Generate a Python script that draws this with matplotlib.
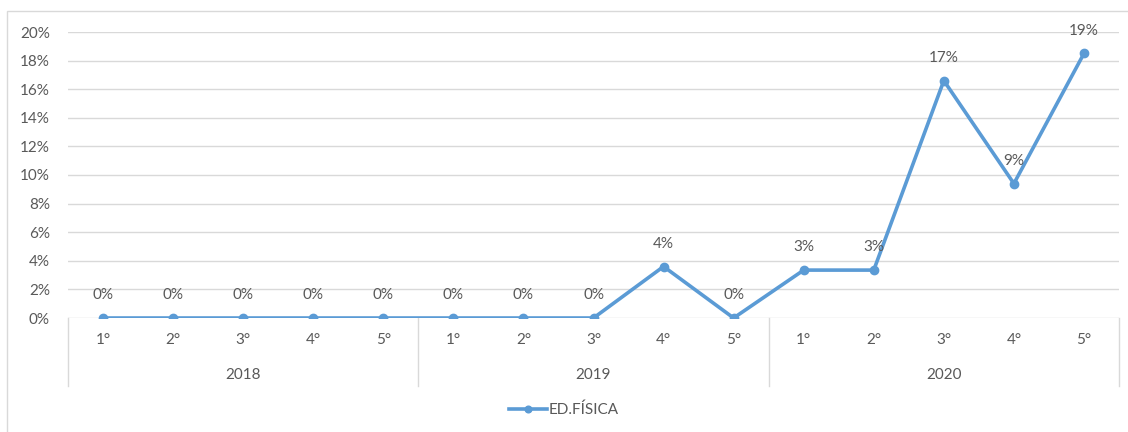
import matplotlib
matplotlib.use("Agg")
import matplotlib.pyplot as plt
import matplotlib.transforms as mtransforms
from matplotlib.patches import Rectangle
from matplotlib.ticker import PercentFormatter

# ── Data
years = ["2018", "2019", "2020"]
grades = ["1°", "2°", "3°", "4°", "5°"]
values = [0.0, 0.0, 0.0, 0.0, 0.0,
          0.0, 0.0, 0.0, 0.036, 0.0,
          0.0335, 0.0335, 0.166, 0.094, 0.185]
labels = ["0%", "0%", "0%", "0%", "0%",
          "0%", "0%", "0%", "4%", "0%",
          "3%", "3%", "17%", "9%", "19%"]
series_name = "ED.FÍSICA"

# ── Style
W, H = 1128, 432
LINE_COLOR = "#5b9bd5"
TEXT_COLOR = "#595959"
GRID_COLOR = "#d9d9d9"
FS = 11
plt.rcParams["font.family"] = ["Lato", "DejaVu Sans"]
plt.rcParams["font.size"] = FS

fig = plt.figure(figsize=(W / 100, H / 100), dpi=100)
fig.patches.append(Rectangle((7 / W, -0.01), 1.0, 1 - 11 / H + 0.01,
                             transform=fig.transFigure, fill=False,
                             edgecolor=GRID_COLOR, lw=1))

ax = fig.add_axes([68 / W, 1 - 318 / H, (1119 - 68) / W, (318 - 32) / H])
n = len(values)
x = list(range(n))
ax.plot(x, values, color=LINE_COLOR, lw=2.6, marker="o", ms=6,
        label=series_name, zorder=3)
for xi, v, lab in zip(x, values, labels):
    ax.annotate(lab, (xi, v), xytext=(0, 16.5), textcoords="offset points",
                ha="center", va="center", color=TEXT_COLOR, fontsize=FS)

ax.set_xlim(-0.5, n - 0.5)
ax.set_ylim(0, 0.2)
ax.set_yticks([i / 100 for i in range(0, 21, 2)])
ax.yaxis.set_major_formatter(PercentFormatter(1.0, decimals=0))
ax.tick_params(axis="y", length=0, pad=13, colors=TEXT_COLOR, labelsize=FS)
ax.set_xticks([])
ax.grid(axis="y", color=GRID_COLOR, lw=1)
ax.set_axisbelow(True)
for s in ["top", "right", "left", "bottom"]:
    ax.spines[s].set_visible(False)

# category axis: grade labels, year labels and separators
trans = mtransforms.blended_transform_factory(ax.transData, ax.transAxes)
px = 1 / (318 - 32)
for i in range(n):
    ax.text(i, -22 * px, grades[i % len(grades)], transform=trans,
            ha="center", va="center", color=TEXT_COLOR, fontsize=FS)
for j, yr in enumerate(years):
    ax.text(j * 5 + 2, -57 * px, yr, transform=trans,
            ha="center", va="center", color=TEXT_COLOR, fontsize=FS)
for j in range(len(years) + 1):
    ax.plot([j * 5 - 0.5, j * 5 - 0.5], [0, -68 * px], transform=trans,
            color=GRID_COLOR, lw=1, clip_on=False)

fig.legend(loc="center", bbox_to_anchor=(0.5, 1 - 410 / H), frameon=False,
           labelcolor=TEXT_COLOR, fontsize=FS, handlelength=2.5,
           handletextpad=0.1, markerscale=0.8)

fig.savefig("out.png", dpi=100)
